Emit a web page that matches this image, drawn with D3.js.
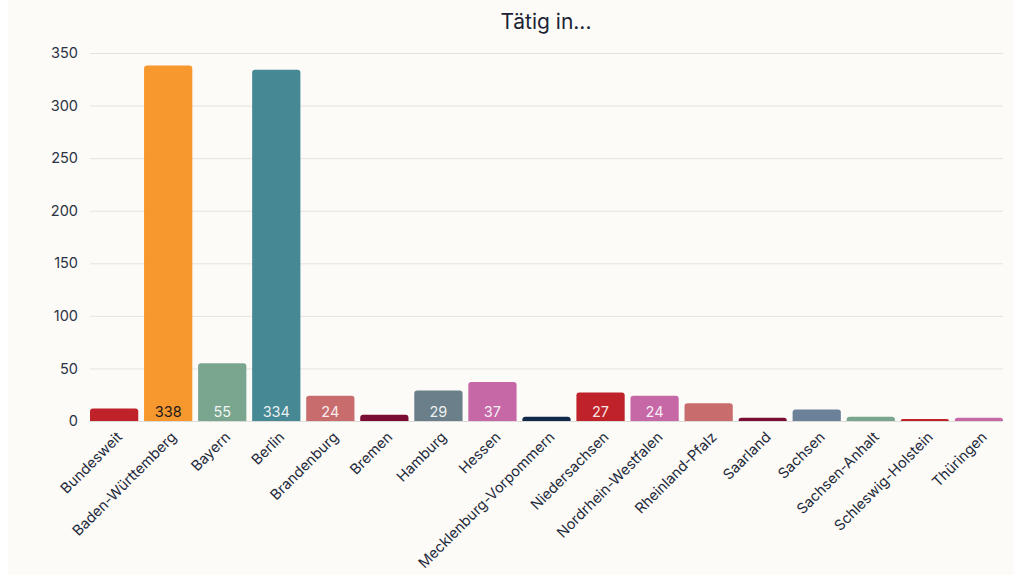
<!DOCTYPE html>
<html><head><meta charset="utf-8">
<script src="https://cdn.jsdelivr.net/npm/d3@7"></script>
<style>
html,body{margin:0;padding:0;background:#ffffff;}
#wrap{position:absolute;left:8px;top:0;width:1006px;height:575px;background:#fcfbf7;}
svg{position:absolute;left:-8px;top:0;}
text{font-family:Inter,"Noto Sans",sans-serif;}
</style></head>
<body><div id="wrap"><svg id="chart" width="1014" height="575"></svg></div>
<script>
const categories = ["Bundesweit","Baden-Württemberg","Bayern","Berlin","Brandenburg","Bremen","Hamburg","Hessen","Mecklenburg-Vorpommern","Niedersachsen","Nordrhein-Westfalen","Rheinland-Pfalz","Saarland","Sachsen","Sachsen-Anhalt","Schleswig-Holstein","Thüringen"];
const values = [12,338,55,334,24,6,29,37,4,27,24,17,3,11,4,2,3];
const colors = ["#bf2229","#f7982f","#7aa690","#468893","#c96c6e","#7b0c33","#6a7f8a","#c668a6","#10284a","#bf2229","#c668a6","#c96c6e","#7b0c33","#6a8199","#7aa690","#bf2229","#c668a6"];
const yTicks = [0,50,100,150,200,250,300,350];
const title = "Tätig in...";
const labelThreshold = 20;

const svg = d3.select("#chart");
const mLeft = 90, mRight = 1003, mTop = 53, mBottom = 421;
const x = d3.scaleBand().domain(categories).range([mLeft,mRight]).paddingInner(0.107).paddingOuter(0);
const y = d3.scaleLinear().domain([0,350]).range([mBottom,mTop]);

svg.append("text").attr("x",546).attr("y",29).attr("text-anchor","middle")
  .attr("font-size",21).attr("fill","#1b2335").text(title);

// grid
svg.append("g").selectAll("line").data(yTicks.filter(d=>d>0)).join("line")
  .attr("x1",mLeft).attr("x2",mRight).attr("y1",d=>y(d)+0.5).attr("y2",d=>y(d)+0.5)
  .attr("stroke","#e4e3e0").attr("stroke-width",1);

// y axis labels
const yAxis = d3.axisLeft(y).tickValues(yTicks).tickSize(0).tickPadding(12);
const yg = svg.append("g").attr("transform",`translate(${mLeft},0)`).call(yAxis);
yg.select(".domain").remove();
yg.selectAll("text").attr("font-size",14.5).attr("fill","#2a3244").style("font-family","Inter, 'Noto Sans', sans-serif");

// bars with rounded top
const r = 3;
function barPath(d,i){
  const x0 = x(categories[i]), w = x.bandwidth(), y0 = y(d), y1 = y(0);
  const rr = Math.min(r, (y1-y0));
  return `M${x0},${y1}V${y0+rr}Q${x0},${y0} ${x0+rr},${y0}H${x0+w-rr}Q${x0+w},${y0} ${x0+w},${y0+rr}V${y1}Z`;
}
svg.append("g").selectAll("path").data(values).join("path")
  .attr("d",(d,i)=>barPath(d,i)).attr("fill",(d,i)=>colors[i]);

// baseline
svg.append("line").attr("x1",mLeft).attr("x2",mRight).attr("y1",mBottom+0.5).attr("y2",mBottom+0.5)
  .attr("stroke","#dcdbd8").attr("stroke-width",1);

// value labels
svg.append("g").selectAll("text").data(values.map((v,i)=>({v,i})).filter(d=>d.v>=labelThreshold)).join("text")
  .attr("x",d=>x(categories[d.i])+x.bandwidth()/2).attr("y",417)
  .attr("text-anchor","middle").attr("font-size",14.5)
  .attr("fill",d=>d.i===1?"#1a1a1a":"#ffffff").attr("fill-opacity",d=>d.i===1?1:0.9)
  .text(d=>d.v);

// x axis labels
const xAxis = d3.axisBottom(x).tickSize(0).tickPadding(0);
const xg = svg.append("g").attr("transform",`translate(0,${mBottom})`).call(xAxis);
xg.select(".domain").remove();
xg.selectAll("text")
  .attr("font-size",14.5).attr("fill","#1f2a3c").style("font-family","Inter, 'Noto Sans', sans-serif")
  .attr("text-anchor","end").attr("dy",null).attr("y",0).attr("x",0)
  .attr("transform","translate(9,17) rotate(-45)");
</script></body></html>
